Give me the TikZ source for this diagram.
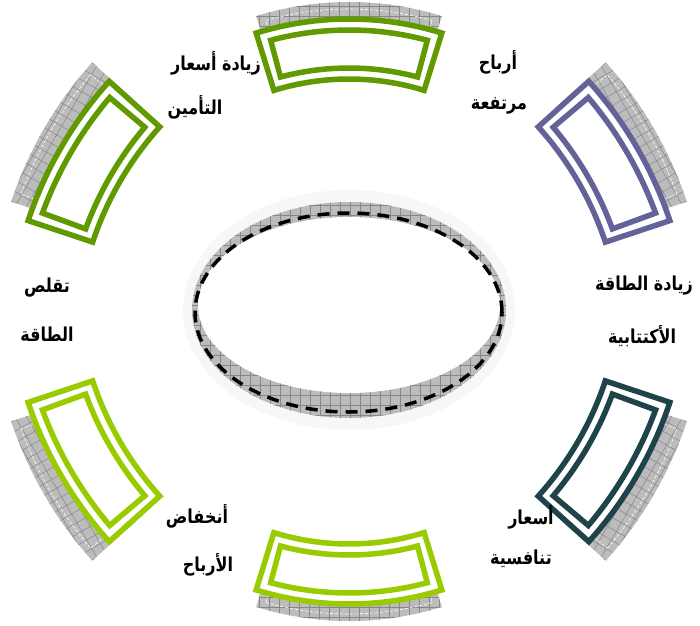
\documentclass[tikz,border=0pt]{standalone}
\usepackage{graphicx}
\usepackage{fontspec}
\newfontfamily\arabicfont[Script=Arabic]{DejaVu Sans}
\TeXXeTstate=1
\definecolor{gA}{RGB}{96,153,0}
\definecolor{gB}{RGB}{153,204,0}
\definecolor{pp}{RGB}{99,99,153}
\definecolor{tl}{RGB}{30,68,74}
\definecolor{shadowgray}{RGB}{188,188,188}
\definecolor{gridgray}{RGB}{135,135,135}
\newcommand{\sectp}[4]{({#1}:{#4}) arc[start angle={#1},end angle={#2},radius={#4}] -- ({#2}:{#3}) arc[start angle={#2},end angle={#1},radius={#3}] -- cycle}
\newcommand{\segm}[9]{%
\begin{scope}[shift={(#3,#4)}]
 \fill[shadowgray] \sectp{#5}{#6}{#7}{#8};
 \begin{scope}
  \clip \sectp{#5}{#6}{#7}{#8};
  \draw[gridline,rotate={(#5+#6)/2}] (-430,-430) grid[step=10pt] (430,430);
 \end{scope}
 \draw[white,densely dashed,line width=0.6] \sectp{#5+1.5}{#6-1.5}{#7+7}{#8-7};
\end{scope}
\begin{scope}[shift={(#1,#2)}]
 \filldraw[fill=white,draw=#9,line width=5.5] \sectp{#5}{#6}{#7}{#8};
 \draw[#9,line width=5.5] \sectp{#5+1260/(#7+#8)}{#6-1260/(#7+#8)}{#7+11}{#8-11};
\end{scope}}
\newcommand{\ar}[1]{\scalebox{1}[1.2]{\beginR #1\endR}}
\tikzset{
 gridline/.style={gridgray,line width=0.5},
 lbl/.style={font=\arabicfont\bfseries\fontsize{16}{18}\selectfont,inner sep=0pt}
}
\begin{document}
\begin{tikzpicture}[x=1pt,y=1pt]
\useasboundingbox (0,0) rectangle (700,625);
\fill[white] (0,0) rectangle (700,625);
% central ring
\fill[gray!6] (349,315) ellipse[x radius=166,y radius=120];
\begin{scope}
 \clip (349,315) ellipse[x radius=157,y radius=108];
 \fill[shadowgray] (150,150) rectangle (550,480);
 \draw[gridline] (150,150) grid[step=10pt] (550,480);
\end{scope}
\fill[white] (349,320) ellipse[x radius=151,y radius=88];
\draw[black,line width=3.5,dash pattern=on 12pt off 8pt] (348.5,312.5) ellipse[x radius=153.5,y radius=99.5];
% segments: cx cy gcx gcy a1 a2 rin rout color
\segm{349}{292}{349}{309}{72.8}{107.2}{254}{314}{gA}
\segm{349}{335}{349}{318}{252.8}{287.2}{254}{314}{gB}
\segm{402}{280}{385}{299}{138}{161.6}{326}{394}{gA}
\segm{402}{347}{385}{328}{198.4}{222}{326}{394}{gB}
\segm{296}{280}{313}{299}{18.4}{42}{326}{394}{pp}
\segm{296}{347}{313}{328}{-42}{-18.4}{326}{394}{tl}
% labels
\node[lbl] (t1a) at (216,562) {\ar{زيادة أسعار}};
\node[lbl] (t1b) at (195,518) {\ar{التأمين}};
\node[lbl] (t2a) at (498,563) {\ar{أرباح}};
\node[lbl] (t2b) at (499,519) {\ar{مرتفعة}};
\node[lbl] (t3a) at (47,337) {\ar{تقلص}};
\node[lbl] (t3b) at (47,291) {\ar{الطاقة}};
\node[lbl] (t4a) at (644,339) {\ar{زيادة الطاقة}};
\node[lbl] (t4b) at (642,289) {\ar{الأكتتابية}};
\node[lbl] (t5a) at (197,109) {\ar{أنخفاض}};
\node[lbl] (t5b) at (208,60) {\ar{الأرباح}};
\node[lbl] (t6a) at (531,108) {\ar{أسعار}};
\node[lbl] (t6b) at (521,66) {\ar{تنافسية}};
\end{tikzpicture}
\end{document}
